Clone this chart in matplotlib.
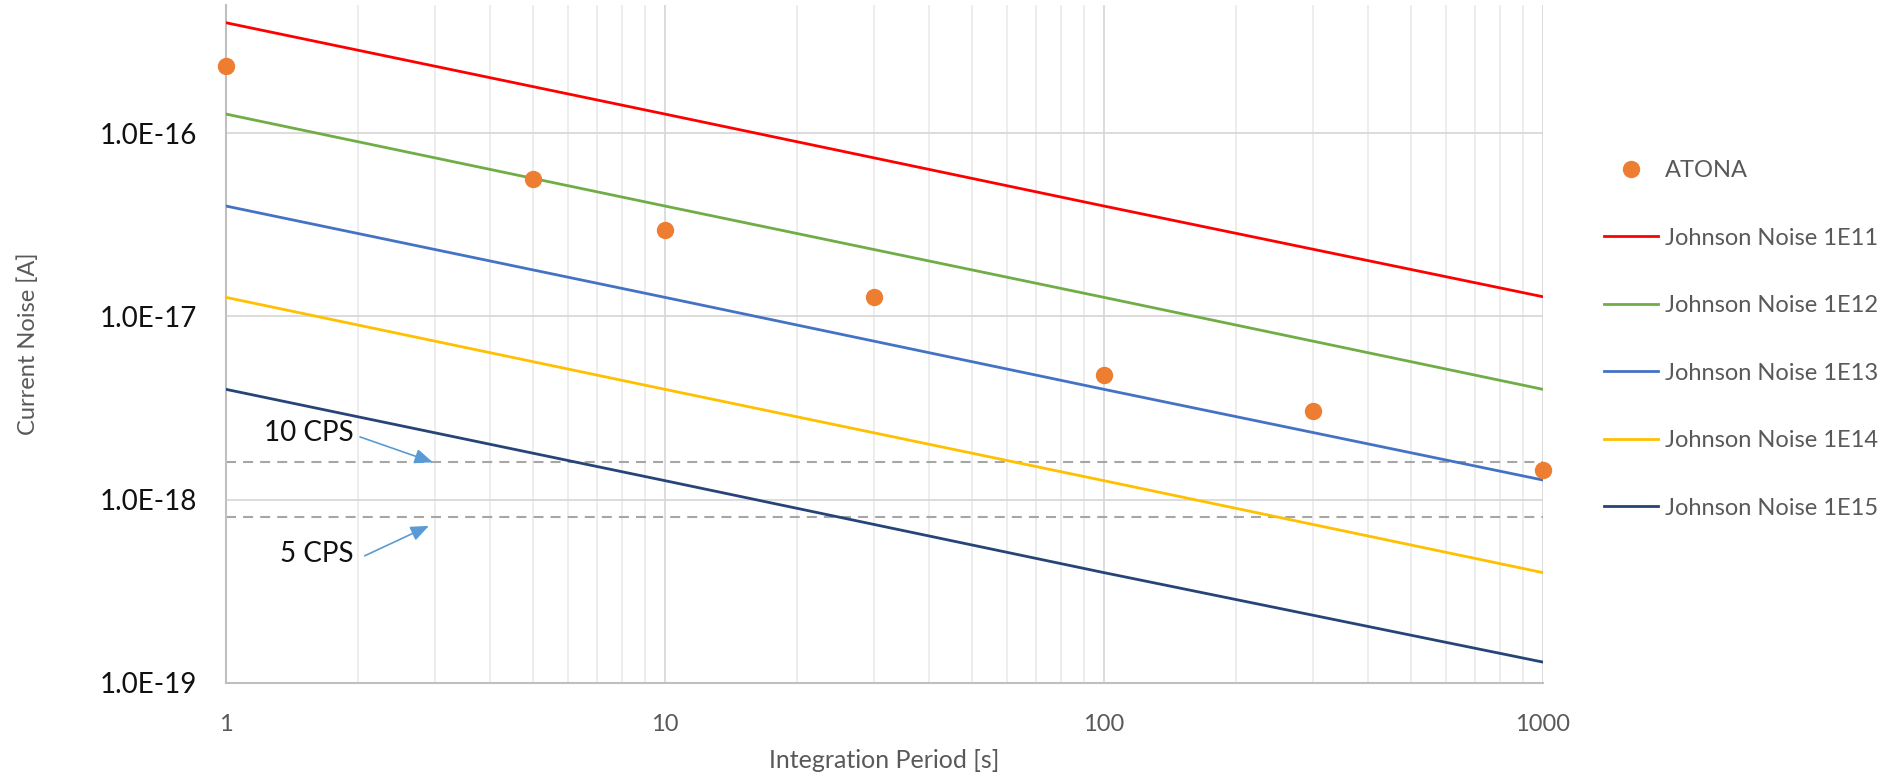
import matplotlib
matplotlib.use("Agg")
import matplotlib.pyplot as plt
from matplotlib.ticker import FixedLocator, NullFormatter, LogLocator

plt.rcParams['font.family'] = ['Lato', 'DejaVu Sans']

# integration period [s]
periods = [1, 10, 100, 1000]

# Johnson noise current [A] for each feedback resistor
johnson_1e11 = [4.0e-16, 1.27e-16, 4.0e-17, 1.28e-17]
johnson_1e12 = [1.27e-16, 4.0e-17, 1.27e-17, 4.0e-18]
johnson_1e13 = [4.0e-17, 1.27e-17, 4.0e-18, 1.28e-18]
johnson_1e14 = [1.27e-17, 4.0e-18, 1.27e-18, 4.0e-19]
johnson_1e15 = [4.0e-18, 1.27e-18, 4.0e-19, 1.3e-19]

# ATONA measured points
atona_t = [1, 5, 10, 30, 100, 300, 1000]
atona_i = [2.32e-16, 5.65e-17, 2.97e-17, 1.27e-17, 4.8e-18, 3.05e-18, 1.46e-18]

# count-rate reference levels
cps_levels = [1.6e-18, 8.0e-19]
cps_labels = ["10 CPS", "5 CPS"]

series = [
    ("Johnson Noise 1E11", johnson_1e11, "#FF0000"),
    ("Johnson Noise 1E12", johnson_1e12, "#70AD47"),
    ("Johnson Noise 1E13", johnson_1e13, "#4472C4"),
    ("Johnson Noise 1E14", johnson_1e14, "#FFC000"),
    ("Johnson Noise 1E15", johnson_1e15, "#264478"),
]

fig = plt.figure(figsize=(18.8, 7.77), dpi=100)
ax = fig.add_axes([0.1202, 0.121, 0.7005, 0.8726])

ax.set_xscale("log")
ax.set_yscale("log")
ax.set_xlim(1, 1000)
ax.set_ylim(1e-19, 5e-16)

# grid
ax.xaxis.set_major_locator(FixedLocator([1, 10, 100, 1000]))
ax.xaxis.set_minor_locator(LogLocator(base=10, subs=range(2, 10)))
ax.xaxis.set_minor_formatter(NullFormatter())
ax.set_xticklabels(["1", "10", "100", "1000"])
ax.yaxis.set_major_locator(FixedLocator([1e-19, 1e-18, 1e-17, 1e-16]))
ax.yaxis.set_minor_locator(FixedLocator([]))
ax.set_yticklabels(["1.0E-19", "1.0E-18", "1.0E-17", "1.0E-16"])
ax.grid(True, which="major", color="#d9d9d9", lw=1.3, zorder=0)
ax.grid(True, which="minor", axis="x", color="#ececec", lw=1.3, zorder=0)
ax.set_axisbelow(True)

for s in ["top", "right"]:
    ax.spines[s].set_visible(False)
for s in ["left", "bottom"]:
    ax.spines[s].set_color("#bfbfbf")
    ax.spines[s].set_linewidth(1.5)

ax.tick_params(which="both", length=0)
ax.tick_params(axis="y", labelsize=20, labelcolor="#111111", pad=21)
ax.tick_params(axis="x", labelsize=17, labelcolor="#595959", pad=22)

# CPS levels
for lvl in cps_levels:
    ax.axhline(lvl, color="#a6a6a6", lw=1.5, ls=(0, (4.8, 3.4)), zorder=1)

handles = []
for name, vals, col in series:
    h, = ax.plot(periods, vals, color=col, lw=2.0, label=name, zorder=3)
    handles.append(h)

sc, = ax.plot(atona_t, atona_i, ls="none", marker="o", ms=11.5, color="#ED7D31",
              label="ATONA", zorder=4, clip_on=False)

# annotations
arrow_kw = dict(arrowstyle="-|>,head_length=1.1,head_width=0.45", color="#5B9BD5",
                lw=1.2, shrinkA=0, shrinkB=0, mutation_scale=10)
ax.text(1.95, 2.32e-18, cps_labels[0], ha="right", va="center", fontsize=20, color="#111111")
ax.annotate("", xy=(2.96, cps_levels[0]), xytext=(2.02, 2.2e-18), arrowprops=arrow_kw)
ax.text(1.95, 5.07e-19, cps_labels[1], ha="right", va="center", fontsize=20, color="#111111")
ax.annotate("", xy=(2.90, 7.2e-19), xytext=(2.07, 4.94e-19), arrowprops=arrow_kw)

ax.set_xlabel("Integration Period [s]", fontsize=18, color="#595959", va="center")
ax.xaxis.set_label_coords(0.5, -0.114)
ax.set_ylabel("Current Noise [A]", fontsize=17, color="#595959", va="center")
ax.yaxis.set_label_coords(-0.150, 0.5)

leg = ax.legend([sc] + handles, ["ATONA"] + [s[0] for s in series],
                loc="upper left", bbox_to_anchor=(0.853, 0.794),
                bbox_transform=fig.transFigure, frameon=False, fontsize=17,
                labelspacing=1.97, handlelength=2.3, handletextpad=0.3,
                borderpad=0, borderaxespad=0)
for t in leg.get_texts():
    t.set_color("#595959")

fig.savefig("out.png", dpi=100)
